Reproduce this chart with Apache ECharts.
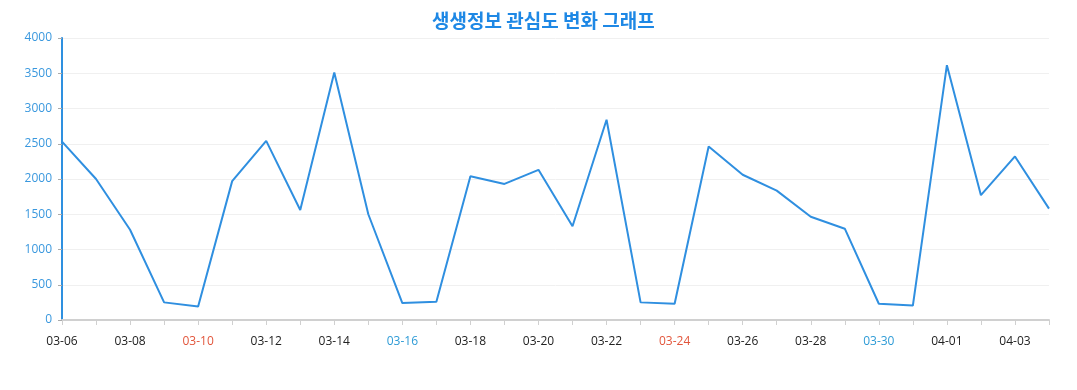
<!DOCTYPE html>
<html>
<head>
<meta charset="utf-8">
<script src="https://cdn.jsdelivr.net/npm/echarts@6/dist/echarts.min.js"></script>
<style>html,body{margin:0;padding:0;background:#fff}#c{width:1077px;height:390px}</style>
</head>
<body>
<div id="c"></div>
<script>
const titleText = '생생정보 관심도 변화 그래프';
const categories = ['03-06','03-07','03-08','03-09','03-10','03-11','03-12','03-13','03-14','03-15',
  '03-16','03-17','03-18','03-19','03-20','03-21','03-22','03-23','03-24','03-25',
  '03-26','03-27','03-28','03-29','03-30','03-31','04-01','04-02','04-03','04-04'];
const values = [2530,2000,1280,250,190,1970,2540,1560,3510,1500,
  240,260,2040,1930,2130,1330,2840,250,230,2460,
  2060,1835,1465,1295,230,205,3615,1770,2320,1580];
const redDays = ['03-10','03-24'];
const blueDays = ['03-16','03-30'];

const chart = echarts.init(document.getElementById('c'));
chart.setOption({
  animation: false,
  title: {
    text: titleText, left: 427, top: 6,
    textStyle: { color: '#1e88e5', fontSize: 19, fontWeight: 'bold', fontFamily: 'Noto Sans CJK KR' }
  },
  grid: { left: 62, right: 28, top: 38, bottom: 70 },
  xAxis: {
    type: 'category', data: categories, boundaryGap: false,
    axisLine: { lineStyle: { color: '#d0d0d0', width: 2 } },
    axisTick: { interval: 0, lineStyle: { color: '#d0d0d0' } },
    axisLabel: {
      interval: 1, margin: 16, fontSize: 12, fontFamily: 'Open Sans',
      formatter: function (v) {
        if (redDays.indexOf(v) >= 0) return '{r|' + v + '}';
        if (blueDays.indexOf(v) >= 0) return '{b|' + v + '}';
        return '{k|' + v + '}';
      },
      rich: {
        r: { color: '#e2553b', fontSize: 12, fontFamily: 'Open Sans' },
        b: { color: '#2e9bd6', fontSize: 12, fontFamily: 'Open Sans' },
        k: { color: '#222', fontSize: 12, fontFamily: 'Open Sans' }
      }
    },
    splitLine: { show: false }
  },
  yAxis: {
    type: 'value', min: 0, max: 4000, interval: 500,
    axisLine: { show: true, lineStyle: { color: '#2e90e0', width: 2 } },
    axisTick: { show: true, length: 4, lineStyle: { color: '#aaa' } },
    axisLabel: { color: '#3a98de', fontSize: 12, fontFamily: 'Open Sans', margin: 10,
      formatter: function (v) { return String(v); } },
    splitLine: { lineStyle: { color: '#f0f0f0' } }
  },
  series: [{
    type: 'line', data: values, symbol: 'none',
    lineStyle: { color: '#2f8fe0', width: 2 }
  }]
});
</script>
</body>
</html>
